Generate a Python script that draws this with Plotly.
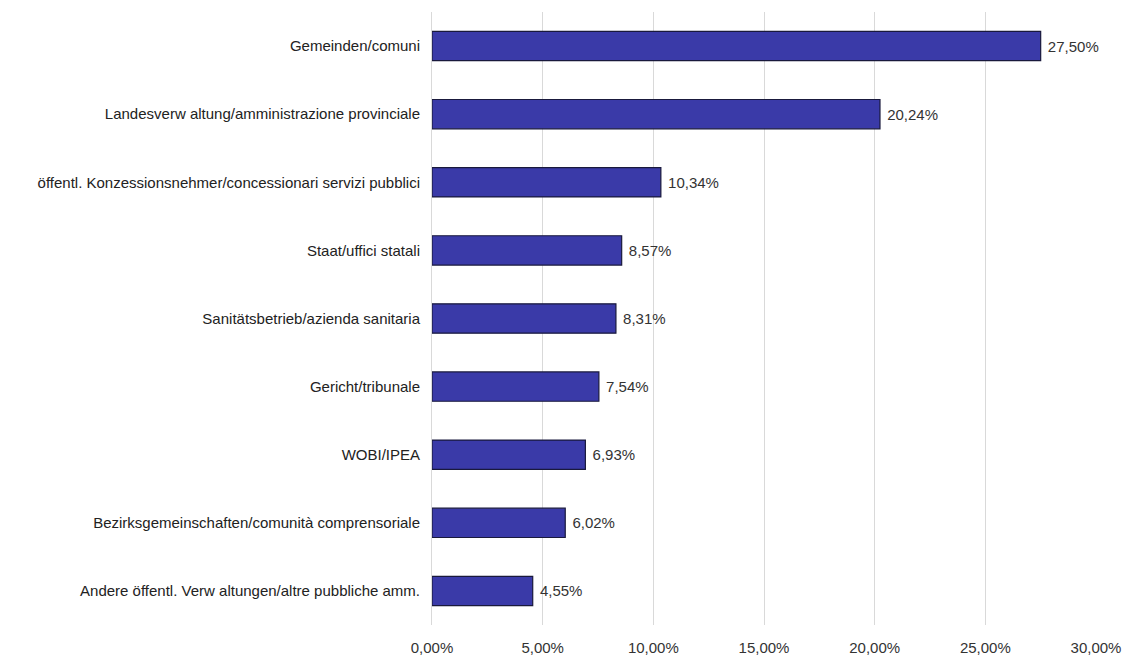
import plotly.graph_objects as go

categories = [
    "Gemeinden/comuni",
    "Landesverw altung/amministrazione provinciale",
    "öffentl. Konzessionsnehmer/concessionari servizi pubblici",
    "Staat/uffici statali",
    "Sanitätsbetrieb/azienda sanitaria",
    "Gericht/tribunale",
    "WOBI/IPEA",
    "Bezirksgemeinschaften/comunità comprensoriale",
    "Andere öffentl. Verw altungen/altre pubbliche amm.",
]
values = [0.2750, 0.2024, 0.1034, 0.0857, 0.0831, 0.0754, 0.0693, 0.0602, 0.0455]
tick_vals = [0, 0.05, 0.10, 0.15, 0.20, 0.25, 0.30]

FONT = "Liberation Sans, Arial, sans-serif"

fig = go.Figure(go.Bar(
    y=categories,
    x=values,
    orientation="h",
    marker=dict(color="rgb(58,58,168)", line=dict(color="rgb(25,25,60)", width=1.2)),
    width=0.43,
    texttemplate=" %{x:.2%}",
    textposition="outside",
    textfont=dict(family=FONT, size=15, color="#333333"),
    cliponaxis=False,
))

fig.update_layout(
    width=1126, height=655,
    margin=dict(l=432, r=30, t=12, b=30, autoexpand=False),
    paper_bgcolor="white", plot_bgcolor="white",
    separators=",.",
    showlegend=False,
    font=dict(family=FONT, size=15, color="#222222"),
    xaxis=dict(
        range=[0, 0.30], tickvals=tick_vals, tickformat=".2%",
        showgrid=True, gridcolor="#d9d9d9", gridwidth=1,
        zeroline=False, showline=False, automargin=False,
        tickfont=dict(size=15, color="#333333"), ticks="", ticklabelstandoff=12,
    ),
    yaxis=dict(
        autorange="reversed", showgrid=False, zeroline=False,
        showline=True, linecolor="#d9d9d9", ticks="", automargin=False,
        tickfont=dict(size=15, color="#222222"), ticklabelstandoff=8,
    ),
)

fig.write_html("out.html")
